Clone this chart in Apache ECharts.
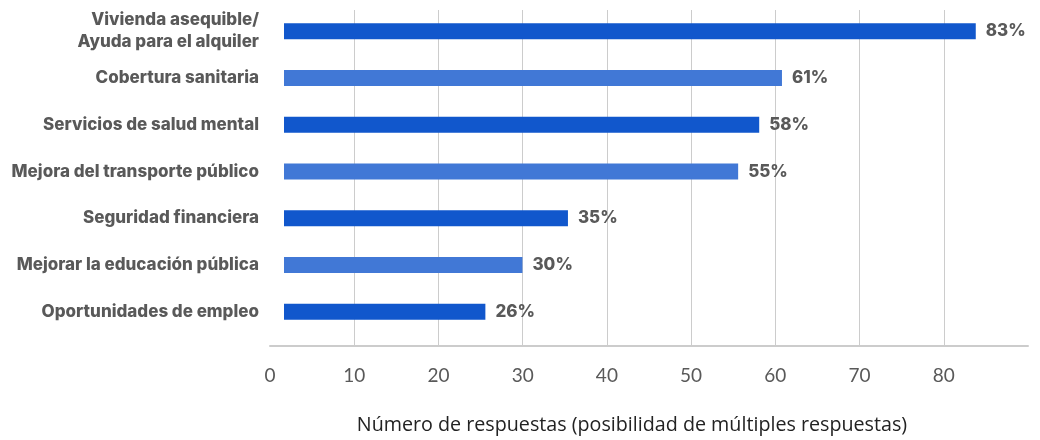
<!DOCTYPE html>
<html><head><meta charset="utf-8">
<script src="https://cdn.jsdelivr.net/npm/echarts@6/dist/echarts.min.js"></script>
<style>html,body{margin:0;padding:0;background:#fff}#c{width:1040px;height:440px}</style>
</head><body><div id="c"></div>
<script>
const categories = ["Vivienda asequible/\nAyuda para el alquiler","Cobertura sanitaria","Servicios de salud mental","Mejora del transporte público","Seguridad financiera","Mejorar la educación pública","Oportunidades de empleo"];
const values = [83.8, 60.8, 58.1, 55.6, 35.4, 30.0, 25.6];
const valueLabels = ["83%","61%","58%","55%","35%","30%","26%"];
const tickValues = [0,10,20,30,40,50,60,70,80];
const axisTitle = "Número de respuestas (posibilidad de múltiples respuestas)";
const colors = ["#1157CC","#4178D6"];

const chart = echarts.init(document.getElementById('c'), null, {renderer:'canvas'});
chart.setOption({
  animation:false,
  grid:[
    {left:284, right:12, top:8, height:327},
    {left:270, right:12, top:10, bottom:92}
  ],
  xAxis:[
    {gridIndex:0, type:'value', min:1.7, max:90, show:false},
    {gridIndex:1, type:'value', min:0, max:90, interval:10,
     axisLine:{show:true, lineStyle:{color:'#cccccc', width:2}},
     axisTick:{show:false},
     splitLine:{show:true, showMinLine:false, showMaxLine:false, lineStyle:{color:'#cccccc', width:1}},
     axisLabel:{margin:20, color:'#595959', fontFamily:'Lato', fontSize:19,
       formatter:v=> tickValues.indexOf(v)>=0 ? String(v) : ''},
     name:axisTitle, nameLocation:'middle', nameGap:69,
     nameTextStyle:{color:'#222222', fontFamily:'Open Sans', fontSize:19.7, padding:[0,34,0,0]}}
  ],
  yAxis:[
    {gridIndex:0, type:'category', data:categories, inverse:true,
     axisLine:{show:false}, axisTick:{show:false}, splitLine:{show:false},
     axisLabel:{margin:25, color:'#595959', fontFamily:'Inter', fontWeight:800, fontSize:17, lineHeight:22, align:'right'}},
    {gridIndex:1, type:'value', show:false}
  ],
  series:[{
    type:'bar', xAxisIndex:0, yAxisIndex:0, barWidth:16,
    data: values.map((v,i)=>({value:v, itemStyle:{color:colors[i%2]}})),
    label:{show:true, position:'right', distance:10, color:'#595959', fontFamily:'Inter', fontWeight:800, fontSize:17,
      formatter:p=>valueLabels[p.dataIndex]}
  }]
});
</script></body></html>
